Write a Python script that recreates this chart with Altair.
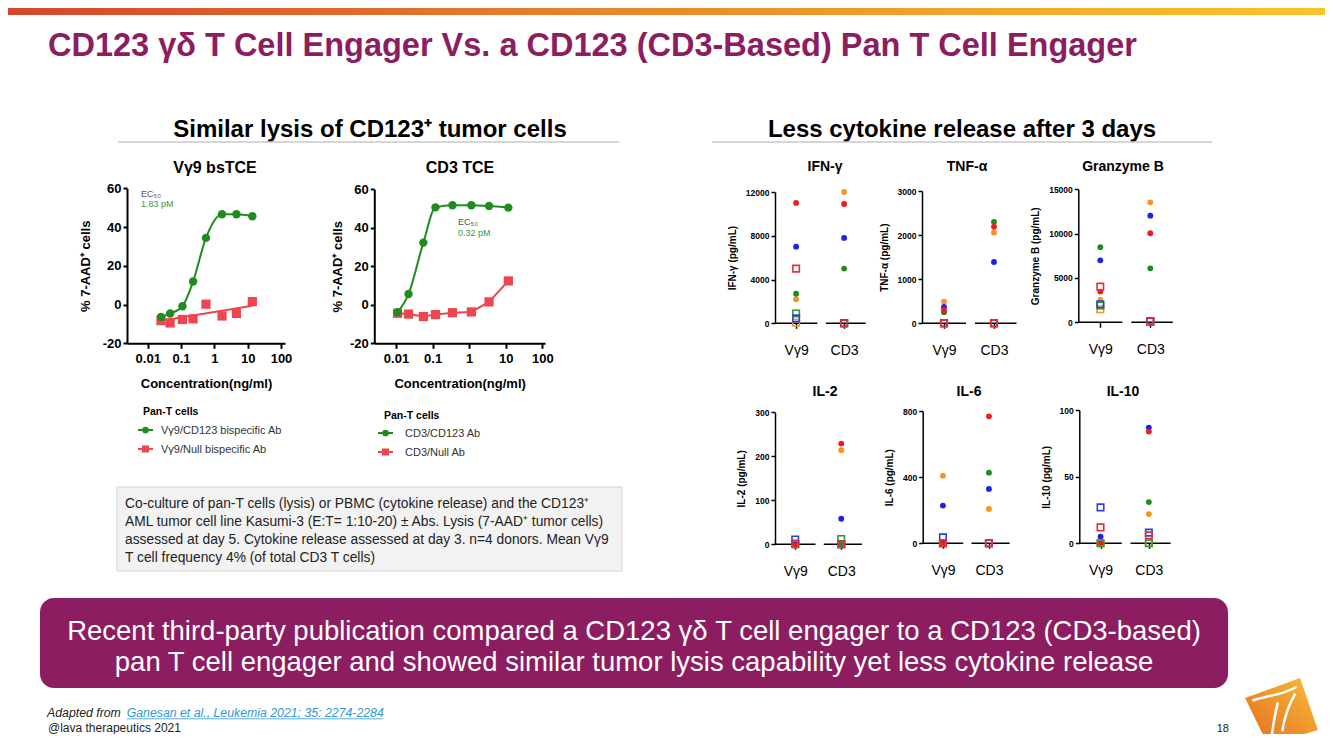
import altair as alt
import pandas as pd

W, H = 1317, 726
M = 8  # page margin of the html body (reference coordinates are page coordinates)

# ---------------- Lysis (dose-response) data ----------------
CONC_VG9 = [0.025, 0.047, 0.11, 0.23, 0.56, 1.7, 4.6, 13.8]
LYSIS_VG9_CD123 = [-6.4, -4.6, -0.9, 11.9, 34.4, 46.6, 46.6, 45.6]
LYSIS_VG9_NULL = [-8.3, -9.5, -7.7, -7.4, 0.2, -5.9, -4.6, 1.5]
FIT_VG9_NULL_CONC = [0.025, 13.8]
FIT_VG9_NULL = [-8.4, -0.6]

CONC_CD3 = [0.011, 0.022, 0.056, 0.12, 0.35, 1.15, 3.5, 11.8]
LYSIS_CD3_CD123 = [-3.9, 5.6, 32.3, 50.6, 51.7, 51.7, 51.3, 50.5]
LYSIS_CD3_NULL = [-4.4, -4.8, -6.1, -5.1, -4.1, -3.7, 1.5, 12.4]

CONC_TICKS = [0.01, 0.1, 1, 10, 100]
LYSIS_TICKS = [-20, 0, 20, 40, 60]

# ---------------- Cytokine data (4 donors: red, blue, green, orange) ----------------
DONORS = ["Donor 1", "Donor 2", "Donor 3", "Donor 4"]
GROUPS = ["Vγ9", "CD3"]
IFNG_VG9 = [11000, 7000, 2700, 2200]
IFNG_VG9_NULL = [5000, 450, 900, 50]
IFNG_CD3 = [10900, 7800, 5000, 12000]
IFNG_CD3_NULL = [0, 0, 0, 0]
TNFA_VG9 = [300, 370, 250, 490]
TNFA_VG9_NULL = [0, 0, 0, 0]
TNFA_CD3 = [2190, 1390, 2300, 2055]
TNFA_CD3_NULL = [0, 0, 0, 0]
GZMB_VG9 = [3460, 6990, 8460, 2520]
GZMB_VG9_NULL = [4020, 2030, 1900, 1470]
GZMB_CD3 = [10040, 12030, 6090, 13530]
GZMB_CD3_NULL = [110, 100, 100, 100]
IL2_VG9 = [0, 0, 0, 0]
IL2_VG9_NULL = [2, 11, 0, 0]
IL2_CD3 = [229, 58, 0, 214]
IL2_CD3_NULL = [0, 0, 12, 0]
IL6_VG9 = [0, 228, 0, 409]
IL6_VG9_NULL = [0, 36, 0, 0]
IL6_CD3 = [768, 329, 427, 208]
IL6_CD3_NULL = [0, 0, 0, 0]
IL10_VG9 = [0.5, 5, 0, 0]
IL10_VG9_NULL = [12, 27, 0, 0]
IL10_CD3 = [84, 87, 31, 22]
IL10_CD3_NULL = [6, 8, 0, 0]

# ---------------- styles ----------------
GREEN = "#1E8C1E"
RED = "#EF4550"
PURPLE = "#8C1D61"
FILL_COLORS = ["#EE1C1C", "#1F1FE8", "#1E8C1E", "#F7941D"]
OPEN_COLORS = ["#E0303F", "#3040D8", "#2E9A2E", "#F7941D"]
ONE = pd.DataFrame({"a": [0]})


def text(s, x, y, size, weight="normal", color="#000000", align="left", angle=0,
         font=None, style="normal", baseline="alphabetic"):
    kw = dict(align=align, baseline=baseline, fontSize=size, fontWeight=weight,
              color=color, fontStyle=style)
    if angle:
        kw["angle"] = angle
    if font:
        kw["font"] = font
    return alt.Chart(pd.DataFrame({"t": [s]})).mark_text(**kw).encode(
        text="t:N", x=alt.value(x - M), y=alt.value(y - M))


def rect(x1, y1, x2, y2, **kw):
    return alt.Chart(ONE).mark_rect(**kw).encode(
        x=alt.value(x1 - M), x2=alt.value(x2 - M), y=alt.value(y1 - M), y2=alt.value(y2 - M))


def hline(x1, x2, y, color, width):
    return alt.Chart(ONE).mark_rule(color=color, strokeWidth=width).encode(
        x=alt.value(x1 - M), x2=alt.value(x2 - M), y=alt.value(y - M))


def pt(x, y, shape, size, color, filled=True, sw=1.0):
    return alt.Chart(ONE).mark_point(shape=shape, size=size, filled=filled, color=color,
                                     opacity=1, strokeWidth=sw).encode(
        x=alt.value(x - M), y=alt.value(y - M))


AX = dict(grid=False, domainColor="black", tickColor="black", labelColor="black",
          titleColor="black", labelFont="Liberation Sans", titleFont="Liberation Sans")
PLAIN = "'' + datum.value"


def lysis_panel(conc, active, null, fit_conc, fit_null, x0, x1, lo, hi, ytop, ybot, tpad):
    xs = alt.Scale(type="log", domain=[lo, hi], range=[x0 - M, x1 - M], nice=False)
    ys = alt.Scale(domain=[-20, 60], range=[ybot - M, ytop - M], nice=False, zero=False)
    xaxis = alt.Axis(orient="bottom", offset=-(H - (ybot - M)), values=CONC_TICKS, labelExpr=PLAIN,
                     title="Concentration(ng/ml)", labelFontSize=13, labelFontWeight="bold",
                     titleFontSize=13, titleFontWeight="bold", domainWidth=2, tickWidth=2,
                     tickSize=5, labelPadding=4, titlePadding=12, labelOverlap=False,
                     labelFlush=False, **AX)
    yaxis = alt.Axis(orient="left", offset=-(x0 - M), values=LYSIS_TICKS, labelExpr=PLAIN,
                     title="% 7-AAD⁺ cells",
                     labelFontSize=13, labelFontWeight="bold", titleFontSize=13,
                     titleFontWeight="bold", domainWidth=2, tickWidth=2, tickSize=4,
                     labelPadding=2, titlePadding=tpad, labelOverlap=False, **AX)
    df = pd.DataFrame({"conc": conc, "active": active, "null": null})
    fit = pd.DataFrame({"conc": fit_conc, "null": fit_null})
    g_line = alt.Chart(df).mark_line(color=GREEN, strokeWidth=2, interpolate="monotone").encode(
        x=alt.X("conc:Q", scale=xs, axis=xaxis), y=alt.Y("active:Q", scale=ys, axis=yaxis))
    r_line = alt.Chart(fit).mark_line(color=RED, strokeWidth=2).encode(
        x=alt.X("conc:Q", scale=xs), y=alt.Y("null:Q", scale=ys))
    r_pts = alt.Chart(df).mark_square(color=RED, size=85, opacity=1).encode(
        x=alt.X("conc:Q", scale=xs), y=alt.Y("null:Q", scale=ys))
    g_pts = alt.Chart(df).mark_circle(color=GREEN, size=70, opacity=1).encode(
        x=alt.X("conc:Q", scale=xs), y=alt.Y("active:Q", scale=ys))
    return alt.layer(g_line, r_line, r_pts, g_pts)


XLO, XHI = 0.56, 2.45


def cyto_panel(vg9, vg9_null, cd3, cd3_null, ymax, ticks, ytitle, axis_x, ppu, y0, ytop):
    xs = alt.Scale(domain=[XLO, XHI], range=[axis_x - M, axis_x - M + (XHI - XLO) * ppu],
                   nice=False, zero=False)
    ys = alt.Scale(domain=[0, ymax], range=[y0 - M, ytop - M], nice=False, zero=False)
    xaxis = alt.Axis(orient="bottom", offset=-(H - (y0 - M)), values=[1, 2], domain=False,
                     labelExpr="datum.value == 1 ? 'Vγ9' : 'CD3'", title=None,
                     labelFontSize=14, tickSize=5, tickWidth=1.5, labelPadding=15,
                     labelFlush=False, labelOverlap=False, **AX)
    yaxis = alt.Axis(orient="left", offset=-(axis_x - M), values=ticks, labelExpr=PLAIN,
                     title=ytitle,
                     labelFontSize=8.5, labelFontWeight="bold", titleFontSize=10,
                     titleFontWeight="bold", domainWidth=1.5, tickWidth=1.5, tickSize=4,
                     labelPadding=2, titlePadding=8, labelOverlap=False, **AX)
    seg = pd.DataFrame({"xs": [XLO, 1.62], "xe": [1.44, XHI], "y": [0, 0]})
    base = alt.Chart(seg).mark_rule(color="black", strokeWidth=1.5).encode(
        x=alt.X("xs:Q", scale=xs, axis=xaxis), x2="xe:Q",
        y=alt.Y("y:Q", scale=ys, axis=yaxis))
    act, nul = [], []
    for gi, (a, n) in enumerate([(vg9, vg9_null), (cd3, cd3_null)]):
        for di in [3, 2, 1, 0]:
            act.append(dict(x=gi + 1, v=a[di], donor=DONORS[di]))
            nul.append(dict(x=gi + 1, v=n[di], donor=DONORS[di]))
    filled = alt.Chart(pd.DataFrame(act)).mark_circle(size=34, opacity=1).encode(
        x=alt.X("x:Q", scale=xs), y=alt.Y("v:Q", scale=ys),
        color=alt.Color("donor:N", scale=alt.Scale(domain=DONORS, range=FILL_COLORS), legend=None))
    opens = alt.Chart(pd.DataFrame(nul)).mark_point(shape="square", filled=False, size=42,
                                                    strokeWidth=1.6, opacity=1).encode(
        x=alt.X("x:Q", scale=xs), y=alt.Y("v:Q", scale=ys),
        stroke=alt.Stroke("donor:N", scale=alt.Scale(domain=DONORS, range=OPEN_COLORS), legend=None))
    return alt.layer(base, filled, opens)


# ---------------- decorations ----------------
grad_bar = alt.Gradient(gradient="linear", x1=0, x2=1, y1=0, y2=0,
                        stops=[alt.GradientStop(color="#D5452B", offset=0),
                               alt.GradientStop(color="#E8852A", offset=0.45),
                               alt.GradientStop(color="#FBC42C", offset=1)])
grad_logo = alt.Gradient(gradient="linear", x1=1, x2=0, y1=0, y2=1,
                         stops=[alt.GradientStop(color="#F6BE3A", offset=0),
                                alt.GradientStop(color="#E56A1E", offset=1)])
LOGO_PATH = "M0.51,-0.92 L1,0.51 L-0.37,0.92 L-1,-0.37 Z"
STRIPES = ("M-0.8,-0.3 C-0.35,-0.45 0.05,-0.45 0.42,-0.68 "
           "M-0.1,-0.25 C-0.2,0.15 -0.25,0.45 -0.28,0.8 "
           "M0.38,-0.5 C0.15,-0.1 0.07,0.2 0.02,0.55")

NOTE = 13.8
decor = [
    rect(0, 8, 1333, 15, fill=grad_bar),
    text("CD123 γδ T Cell Engager Vs. a CD123 (CD3-Based) Pan T Cell Engager", 48, 56, 32.5,
         "bold", PURPLE),
    text("Similar lysis of CD123⁺ tumor cells", 370, 137, 24, "bold", align="center"),
    hline(118, 619, 142, "#C8C8C8", 1.5),
    text("Less cytokine release after 3 days", 962, 137, 24, "bold", align="center"),
    hline(712, 1212, 142, "#C8C8C8", 1.5),
    text("Vγ9 bsTCE", 215, 173, 16, "bold", align="center"),
    text("CD3 TCE", 460, 173, 16, "bold", align="center"),
    text("EC₅₀", 141, 197, 9, color="#555555"),
    text("1.83 pM", 141, 207, 9, color="#3C963C"),
    text("EC₅₀", 458, 225, 9, color="#555555"),
    text("0.32 pM", 458, 236, 9, color="#3C963C"),
    text("IFN-γ", 825, 171, 14, "bold", align="center"),
    text("TNF-α", 967, 171, 14, "bold", align="center"),
    text("Granzyme B", 1123, 171, 14, "bold", align="center"),
    text("IL-2", 825, 396, 14, "bold", align="center"),
    text("IL-6", 969, 396, 14, "bold", align="center"),
    text("IL-10", 1123, 396, 14, "bold", align="center"),
    # legends
    text("Pan-T cells", 143, 415, 10.5, "bold"),
    hline(138, 153, 430, GREEN, 2), pt(145.5, 430, "circle", 45, GREEN),
    text("Vγ9/CD123 bispecific Ab", 161, 434, 11, color="#333333"),
    hline(138, 153, 449, RED, 2), pt(145.5, 449, "square", 50, RED),
    text("Vγ9/Null bispecific Ab", 161, 453, 11, color="#333333"),
    text("Pan-T cells", 384, 419, 10.5, "bold"),
    hline(378, 393, 433, GREEN, 2), pt(385.5, 433, "circle", 45, GREEN),
    text("CD3/CD123 Ab", 405, 437, 11, color="#333333"),
    hline(378, 393, 452, RED, 2), pt(385.5, 452, "square", 50, RED),
    text("CD3/Null Ab", 405, 456, 11, color="#333333"),
    # note box
    rect(117, 487, 622, 571, fill="#F2F2F2", stroke="#D4D4D4", strokeWidth=1),
    text("Co-culture of pan-T cells (lysis) or PBMC (cytokine release) and the CD123⁺", 125, 508, NOTE, color="#222222"),
    text("AML tumor cell line Kasumi-3 (E:T= 1:10-20) ± Abs. Lysis (7-AAD⁺ tumor cells)", 125, 526, NOTE, color="#222222"),
    text("assessed at day 5. Cytokine release assessed at day 3. n=4 donors. Mean Vγ9", 125, 544, NOTE, color="#222222"),
    text("T cell frequency 4% (of total CD3 T cells)", 125, 562, NOTE, color="#222222"),
    # banner
    rect(40, 598, 1228, 688, fill=PURPLE, cornerRadius=14),
    text("Recent third-party publication compared a CD123 γδ T cell engager to a CD123 (CD3-based)",
         634, 640, 27.5, color="white", align="center"),
    text("pan T cell engager and showed similar tumor lysis capability yet less cytokine release",
         634, 671, 27.5, color="white", align="center"),
    # footer
    text("Adapted from", 47, 717, 12.3, style="italic", color="#222222"),
    text("Ganesan et al., Leukemia 2021; 35: 2274-2284", 126.7, 717, 12.3, style="italic", color="#2E9AD0"),
    hline(126.7, 382.7, 718.8, "#2E9AD0", 0.8),
    text("@lava therapeutics 2021", 48, 732, 12, color="#222222"),
    text("18", 1229, 732, 11, color="#222222", align="right"),
    alt.Chart(ONE).mark_point(shape=LOGO_PATH, size=5300, filled=True, fill=grad_logo,
                              strokeWidth=0, opacity=1).encode(
        x=alt.value(1281.5 - M), y=alt.value(711.5 - M)),
    alt.Chart(ONE).mark_point(shape=STRIPES, size=5300, filled=False, color="white",
                              strokeWidth=2.5, opacity=1).encode(
        x=alt.value(1281.5 - M), y=alt.value(711.5 - M)),
]

panels = [
    lysis_panel(CONC_VG9, LYSIS_VG9_CD123, LYSIS_VG9_NULL, FIT_VG9_NULL_CONC, FIT_VG9_NULL,
                127, 285, 0.00239, 131.8, 188.3, 343.3, 10),
    lysis_panel(CONC_CD3, LYSIS_CD3_CD123, LYSIS_CD3_NULL, CONC_CD3, LYSIS_CD3_NULL,
                374.3, 545, 0.00255, 118.6, 189.3, 343.3, 5),
    cyto_panel(IFNG_VG9, IFNG_VG9_NULL, IFNG_CD3, IFNG_CD3_NULL, 12000,
               [0, 4000, 8000, 12000], "IFN-γ (pg/mL)", 775, 48, 323.3, 192),
    cyto_panel(TNFA_VG9, TNFA_VG9_NULL, TNFA_CD3, TNFA_CD3_NULL, 3000,
               [0, 1000, 2000, 3000], "TNF-α (pg/mL)", 922, 50, 323.3, 191),
    cyto_panel(GZMB_VG9, GZMB_VG9_NULL, GZMB_CD3, GZMB_CD3_NULL, 15000,
               [0, 5000, 10000, 15000], "Granzyme B (pg/mL)", 1078.3, 50, 322.3, 189.3),
    cyto_panel(IL2_VG9, IL2_VG9_NULL, IL2_CD3, IL2_CD3_NULL, 300,
               [0, 100, 200, 300], "IL-2 (pg/mL)", 775, 46, 544.3, 412.3),
    cyto_panel(IL6_VG9, IL6_VG9_NULL, IL6_CD3, IL6_CD3_NULL, 800,
               [0, 400, 800], "IL-6 (pg/mL)", 922.7, 46, 543.3, 411),
    cyto_panel(IL10_VG9, IL10_VG9_NULL, IL10_CD3, IL10_CD3_NULL, 100,
               [0, 50, 100], "IL-10 (pg/mL)", 1079.3, 48.3, 543.3, 410.3),
]

chart = alt.layer(*decor, *panels).resolve_scale(
    x="independent", y="independent"
).properties(
    width=W, height=H, padding=0, autosize=alt.AutoSizeParams(type="none")
).configure(font="Liberation Sans").configure_view(stroke=None)

chart.save("out.html", embed_options={"renderer": "svg", "actions": False})
